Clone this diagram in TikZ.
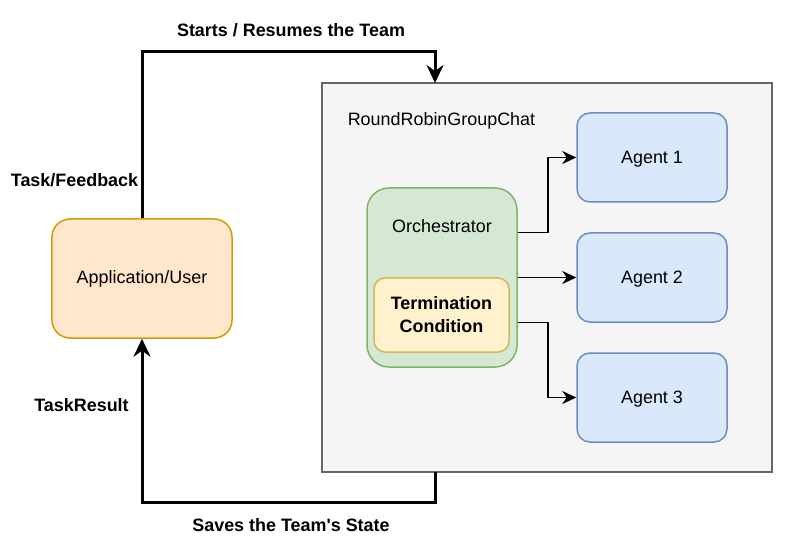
\documentclass[tikz,border=0pt]{standalone}
\usepackage{fontspec}
\setmainfont{Liberation Sans}
\usetikzlibrary{arrows.meta}
\definecolor{appfill}{HTML}{FFE6CC}
\definecolor{appline}{HTML}{D79B00}
\definecolor{teamfill}{HTML}{F5F5F5}
\definecolor{teamline}{HTML}{666666}
\definecolor{orchfill}{HTML}{D5E8D4}
\definecolor{orchline}{HTML}{82B366}
\definecolor{termfill}{HTML}{FFF2CC}
\definecolor{termline}{HTML}{D6B656}
\definecolor{agentfill}{HTML}{DAE8FC}
\definecolor{agentline}{HTML}{6C8EBF}

\begin{document}
\begin{tikzpicture}[x=1bp,y=-1bp]
\tikzstyle{every node}=[font=\fontsize{18}{23}\selectfont, inner sep=0pt, align=center]
\tikzstyle{box}=[draw, line width=1.5bp]
\tikzstyle{appbox}=[box, fill=appfill, draw=appline, rounded corners=18bp, minimum width=180bp, minimum height=119bp]
\tikzstyle{teambox}=[box, fill=teamfill, draw=teamline, minimum width=450bp, minimum height=389bp]
\tikzstyle{orchbox}=[box, fill=orchfill, draw=orchline, rounded corners=22bp, minimum width=150bp, minimum height=179bp]
\tikzstyle{termbox}=[box, fill=termfill, draw=termline, rounded corners=11bp, minimum width=135bp, minimum height=74bp, font=\fontsize{18}{23}\selectfont\bfseries]
\tikzstyle{agentbox}=[box, fill=agentfill, draw=agentline, rounded corners=13bp, minimum width=150bp, minimum height=89bp, text depth=0pt]
\tikzstyle{flow}=[line width=3bp, -{Stealth[length=18bp,width=17bp,inset=6bp]}]
\tikzstyle{call}=[line width=1.5bp, -{Stealth[length=14bp,width=13bp,inset=4.5bp]}]
\tikzstyle{tag}=[font=\fontsize{18}{23}\selectfont\bfseries]
\useasboundingbox (0,0) rectangle (786,544);
% boxes
\draw (547,277.5) node (team) [teambox] {};
\draw (441.5,121) node (teamname) {RoundRobinGroupChat};
\draw (142,278.5) node (app) [appbox] {Application/User};
\draw (442,277.5) node (orch) [orchbox] {};
\draw (442,226) node (orchname) {Orchestrator};
\draw (441.5,315) node (term) [termbox] {Termination\\Condition};
\draw (652,157.5) node (a1) [agentbox] {Agent 1};
\draw (652,277.5) node (a2) [agentbox] {Agent 2};
\draw (652,397.5) node (a3) [agentbox] {Agent 3};
% orchestrator to agents
\draw[call] ([yshift=45bp]orch.east) -- ++(30,0) |- (a1.west);
\draw[call] (orch.east) -- (a2.west);
\draw[call] ([yshift=-45bp]orch.east) -- ++(30,0) |- (a3.west);
% app <-> team
\coordinate (topbend) at (435,52);
\coordinate (teamin) at (435,83);
\coordinate (teamout) at (435,472);
\coordinate (botbend) at (435,502);
\draw[flow] (app.north) |- (topbend) -- (teamin);
\draw[flow] (teamout) -- (botbend) -| (app.south);
% labels
\draw (291,30) node (startlbl) [tag] {Starts / Resumes the Team};
\draw (74.5,180) node (tasklbl) [tag] {Task/Feedback};
\draw (81.5,405) node (resultlbl) [tag] {TaskResult};
\draw (291,525) node (savelbl) [tag] {Saves the Team\textquotesingle s State};
\end{tikzpicture}
\end{document}
